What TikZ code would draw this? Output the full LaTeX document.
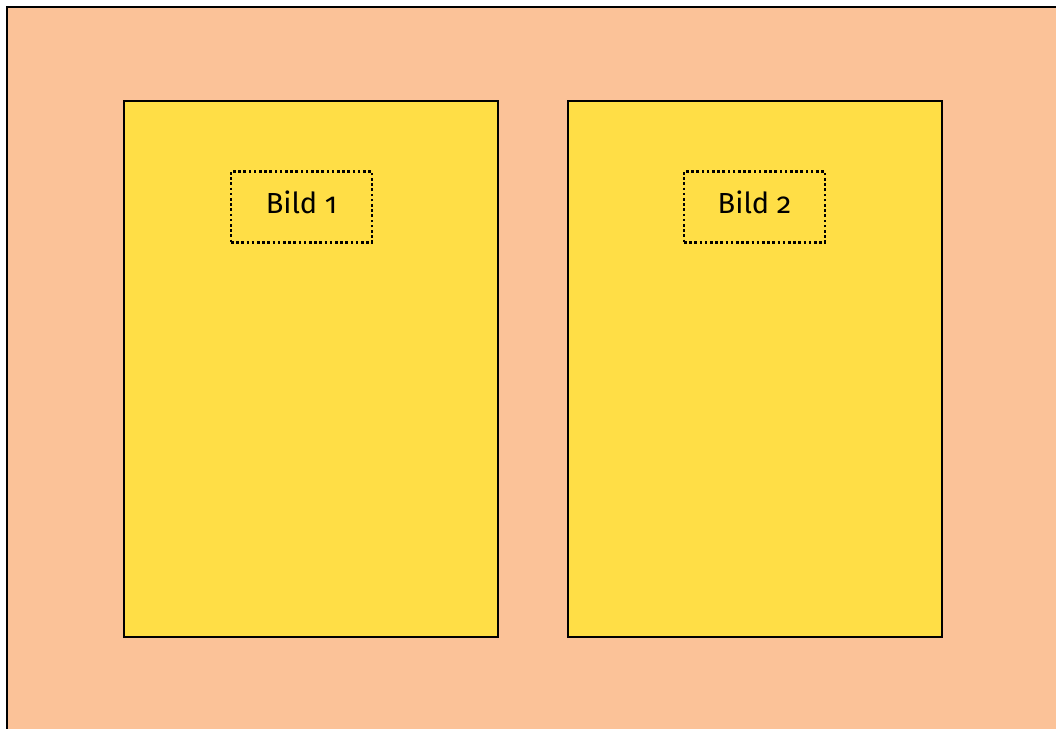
\documentclass[tikz,border=0pt]{standalone}
\usepackage{fontspec}
\setmainfont{Fira Sans}[Numbers=OldStyle]
\usetikzlibrary{positioning}
\usepackage{xcolor}
\definecolor{peach}{RGB}{251,194,152}
\definecolor{sunny}{RGB}{255,222,70}
\definecolor{ink}{RGB}{0,0,0}

\begin{document}
\begin{tikzpicture}[
  x=1pt,y=-1pt,
  font=\fontsize{29}{34}\selectfont,
  sheet/.style={draw=ink,line width=2pt,fill=peach},
  panel/.style={draw=ink,line width=2pt,fill=sunny,minimum width=374pt,minimum height=536pt,inner sep=0pt},
  pic/.style={draw=ink,line width=2.8pt,dash pattern=on 2.6pt off 2.6pt,minimum width=141pt,minimum height=71pt,inner sep=0pt,align=center},
]
\clip (0,0) rectangle (1056,728);
% background sheet
\fill[white] (0,0) rectangle (1056,728);
\draw[sheet] (7,7) rectangle (1064,736);
% two panels
\node[panel] (left) at (311,369) {};
\node[panel] (right) at (754.5,369) {};
% picture placeholders
\node[pic,below=70pt of left.north,xshift=-9.5pt] (bild1) {\raisebox{10pt}{Bild 1}};
\node[pic,below=70pt of right.north] (bild2) {\raisebox{10pt}{Bild 2}};
\end{tikzpicture}
\end{document}
